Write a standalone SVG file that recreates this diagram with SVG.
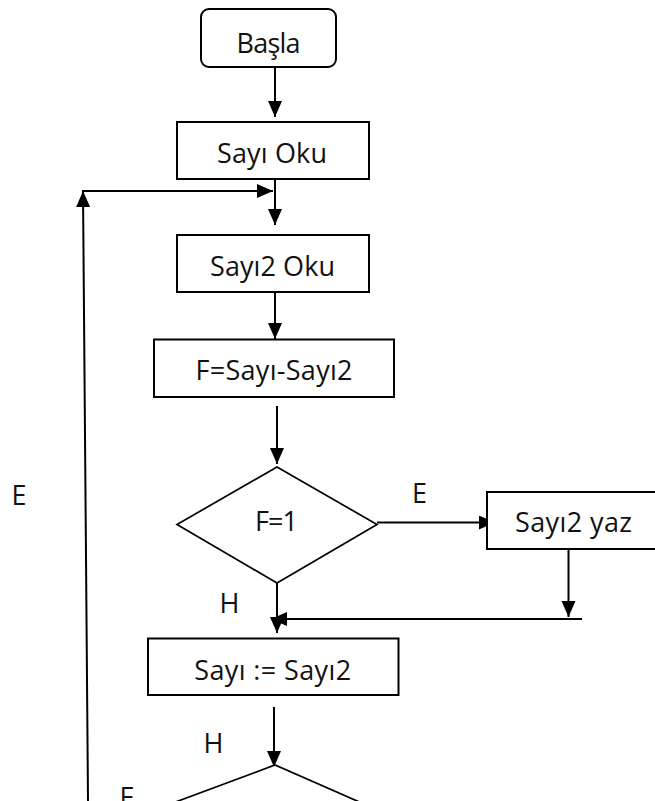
<svg xmlns="http://www.w3.org/2000/svg" width="655" height="801" viewBox="0 0 655 801">
  <style>
    .shape { fill: #ffffff; stroke: #000000; stroke-width: 2; }
    .dia { fill: #ffffff; stroke: #000000; stroke-width: 1.7; }
    .wire { fill: none; stroke: #000000; stroke-width: 2; }
    text { font-family: "Open Sans", "Noto Sans", "DejaVu Sans", sans-serif; font-size: 27px; fill: #111111; }
    .c { text-anchor: middle; }
  </style>
  <defs>
    <marker id="arrow" markerUnits="userSpaceOnUse" markerWidth="17" markerHeight="15" refX="16" refY="7" orient="auto">
      <path d="M0,0 L16,7 L0,14 Z" fill="#000000"/>
    </marker>
  </defs>
  <rect width="655" height="801" fill="#ffffff"/>

  <g id="connectors">
    <line class="wire" x1="275" y1="67" x2="275" y2="117" marker-end="url(#arrow)"/>
    <line class="wire" x1="88" y1="801" x2="83" y2="191" marker-end="url(#arrow)"/>
    <line class="wire" x1="82" y1="191" x2="273" y2="191" marker-end="url(#arrow)"/>
    <line class="wire" x1="275" y1="179" x2="275" y2="225" marker-end="url(#arrow)"/>
    <line class="wire" x1="275" y1="292" x2="275" y2="339" marker-end="url(#arrow)"/>
    <line class="wire" x1="277" y1="406" x2="277" y2="464" marker-end="url(#arrow)"/>
    <line class="wire" x1="377" y1="522.5" x2="495" y2="522.5" marker-end="url(#arrow)"/>
    <line class="wire" x1="568.5" y1="549" x2="568.5" y2="617" marker-end="url(#arrow)"/>
    <line class="wire" x1="582" y1="619" x2="271" y2="619" marker-end="url(#arrow)"/>
    <line class="wire" x1="277" y1="583" x2="277" y2="633" marker-end="url(#arrow)"/>
    <line class="wire" x1="274" y1="707" x2="274" y2="767" marker-end="url(#arrow)"/>
  </g>

  <g id="basla">
    <rect class="shape" x="201" y="9" width="135" height="58" rx="8"/>
    <text class="c" x="268.5" y="53" textLength="64">Başla</text>
  </g>

  <g id="sayi-oku">
    <rect class="shape" x="177" y="122" width="192" height="57"/>
    <text class="c" x="272" y="163" textLength="110">Sayı Oku</text>
  </g>

  <g id="sayi2-oku">
    <rect class="shape" x="177" y="235" width="192" height="57"/>
    <text class="c" x="272.5" y="276" textLength="125">Sayı2 Oku</text>
  </g>

  <g id="fark">
    <rect class="shape" x="154" y="339.5" width="240" height="57.5"/>
    <text class="c" x="274" y="380" textLength="157">F=Sayı-Sayı2</text>
  </g>

  <g id="karar-f">
    <polygon class="dia" points="277,467 377,524.5 277,583 177,524.5"/>
    <text class="c" x="276.5" y="531" textLength="43">F=1</text>
  </g>

  <g id="sayi2-yaz">
    <rect class="shape" x="487" y="492" width="200" height="57"/>
    <text class="c" x="573.5" y="532" textLength="117">Sayı2 yaz</text>
  </g>

  <g id="atama">
    <rect class="shape" x="148" y="638.5" width="250.5" height="56.5"/>
    <text class="c" x="272.7" y="680" textLength="157">Sayı := Sayı2</text>
  </g>

  <g id="karar-son">
    <polyline class="dia" points="150,811.5 275,765 380,811"/>
  </g>

  <g id="labels">
    <text class="c" x="419.5" y="502.5">E</text>
    <text class="c" x="229.5" y="613">H</text>
    <text class="c" x="19" y="505">E</text>
    <text class="c" x="213.5" y="753">H</text>
    <text class="c" x="127" y="807">E</text>
  </g>
</svg>
